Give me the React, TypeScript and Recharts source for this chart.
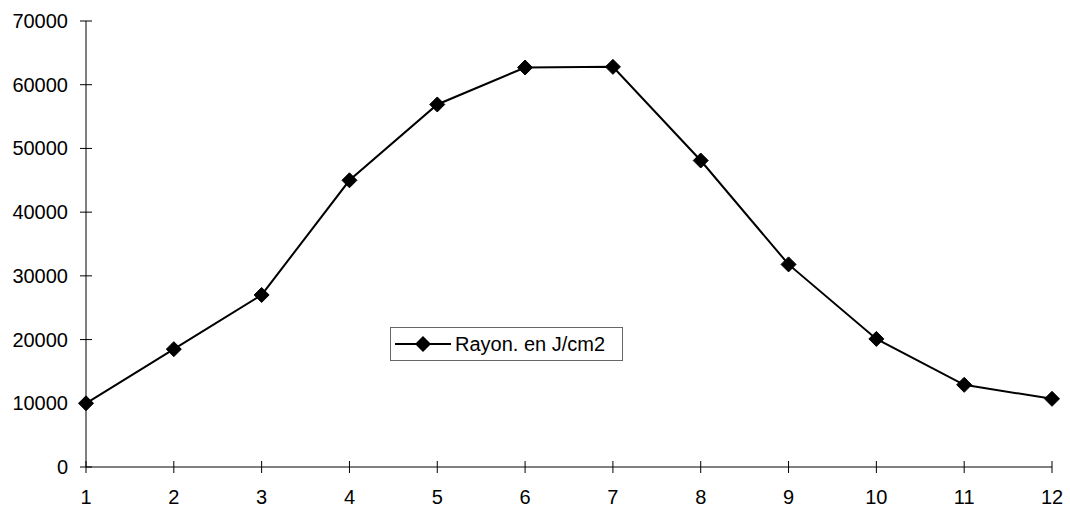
import { LineChart, Line, XAxis, YAxis } from "recharts";

const months = [1, 2, 3, 4, 5, 6, 7, 8, 9, 10, 11, 12];
const rayonnement = [10000, 18500, 27000, 45000, 56900, 62700, 62800, 48100, 31800, 20100, 12900, 10700];
const yTicks = [0, 10000, 20000, 30000, 40000, 50000, 60000, 70000];
const seriesName = "Rayon. en J/cm2";

const data = months.map((m, i) => ({ mois: m, rayon: rayonnement[i] }));

const FONT = "'Liberation Sans', Arial, sans-serif";

// diamond marker
const Diamond = (props: any) => {
  const { cx, cy } = props;
  if (cx == null || cy == null) return null;
  const r = 7.5;
  return (
    <polygon
      points={`${cx},${cy - r} ${cx + r},${cy} ${cx},${cy + r} ${cx - r},${cy}`}
      fill="#000"
      stroke="#000"
    />
  );
};

// x ticks cross the axis line
const XTick = (props: any) => {
  const { x, payload } = props;
  const axisY = 467;
  return (
    <g>
      <line x1={x} x2={x} y1={axisY - 6} y2={axisY + 6} stroke="#000" strokeWidth={1} />
      <text x={x} y={axisY + 37} textAnchor="middle" fontSize={20} fontFamily={FONT} fill="#000">
        {payload.value}
      </text>
    </g>
  );
};

const YTick = (props: any) => {
  const { y, payload } = props;
  const axisX = 86;
  return (
    <g>
      <line x1={axisX - 6} x2={axisX + 6} y1={y} y2={y} stroke="#000" strokeWidth={1} />
      <text x={axisX - 18} y={y + 7} textAnchor="end" fontSize={20} fontFamily={FONT} fill="#000">
        {payload.value}
      </text>
    </g>
  );
};

const LegendBox = () => (
  <div
    style={{
      position: "absolute",
      left: 390,
      top: 327,
      width: 233,
      height: 34,
      border: "1px solid #666",
      background: "#fff",
      display: "flex",
      alignItems: "center",
      fontFamily: FONT,
      fontSize: 20,
      boxSizing: "border-box",
    }}
  >
    <svg width={56} height={20} style={{ marginLeft: 4 }}>
      <line x1={0} x2={56} y1={10} y2={10} stroke="#000" strokeWidth={2} />
      <polygon points="28,2 36,10 28,18 20,10" fill="#000" />
    </svg>
    <span style={{ marginLeft: 4 }}>{seriesName}</span>
  </div>
);

export default function App() {
  return (
    <div style={{ position: "absolute", left: 0, top: 0, width: 1070, height: 510, background: "#fff" }}>
      <LineChart width={1070} height={510} data={data} margin={{ top: 21, right: 18, left: 0, bottom: 0 }}>
        <XAxis
          dataKey="mois"
          type="number"
          domain={[1, 12]}
          ticks={months}
          height={43}
          stroke="#000"
          tickLine={false}
          tick={<XTick />}
          interval={0}
        />
        <YAxis
          type="number"
          domain={[0, 70000]}
          ticks={yTicks}
          width={86}
          stroke="#000"
          tickLine={false}
          tick={<YTick />}
          interval={0}
        />
        <Line
          type="linear"
          dataKey="rayon"
          name={seriesName}
          stroke="#000"
          strokeWidth={2}
          dot={<Diamond />}
          activeDot={false}
          isAnimationActive={false}
        />
      </LineChart>
      <LegendBox />
    </div>
  );
}
